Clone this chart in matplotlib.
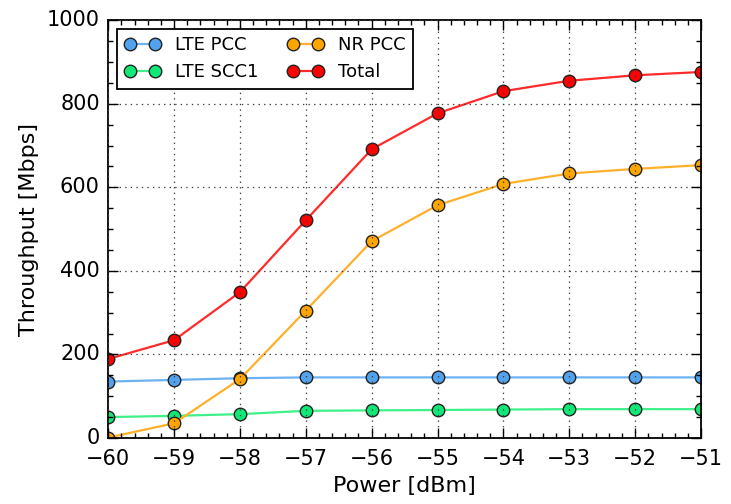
import matplotlib
matplotlib.use("Agg")
import matplotlib.pyplot as plt
from matplotlib.ticker import MultipleLocator

power = [-60, -59, -58, -57, -56, -55, -54, -53, -52, -51]
lte_pcc = [135, 139, 143, 145, 145, 145, 145, 145, 145, 145]
lte_scc1 = [50, 53, 57, 65, 66, 67, 68, 69, 69, 69]
nr_pcc = [1, 35, 141, 305, 471, 557, 608, 633, 644, 653]
total = [189, 234, 349, 521, 691, 777, 830, 855, 868, 876]

plt.style.use("classic")
plt.rcParams["font.family"] = ["DejaVu Sans"]

fig = plt.figure(figsize=(7.31, 5.04), dpi=100, facecolor="white")
ax = fig.add_axes([0.148, 0.131, 0.811, 0.829])

series = [
    ("LTE PCC", lte_pcc, "#6db3f0", "#52a2ee"),
    ("LTE SCC1", lte_scc1, "#3ef08a", "#10e878"),
    ("NR PCC", nr_pcc, "#ffb02a", "#ffa500"),
    ("Total", total, "#ff2a2a", "#ff0000"),
]
for name, vals, lc, mc in series:
    ax.plot(power, vals, "-o", color=lc, lw=1.6, markerfacecolor=mc,
            markeredgecolor="#222222", markeredgewidth=1.0, markersize=9,
            label=name)

ax.set_xlim(-60, -51)
ax.set_ylim(0, 1000)
ax.xaxis.set_major_locator(MultipleLocator(1))
ax.xaxis.set_minor_locator(MultipleLocator(0.2))
ax.yaxis.set_major_locator(MultipleLocator(200))
ax.yaxis.set_minor_locator(MultipleLocator(50))
ax.tick_params(which="both", direction="in", top=True, right=True, labelsize=15)
ax.tick_params(which="major", length=7, width=1)
ax.tick_params(axis="x", which="major", pad=8)
ax.tick_params(axis="y", which="major", pad=6)
ax.tick_params(which="minor", length=3.5, width=1)
ax.grid(True, which="major", color="0.25", linestyle=":", linewidth=0.9)
ax.set_xlabel("Power [dBm]", fontsize=16, labelpad=5)
ax.set_ylabel("Throughput [Mbps]", fontsize=16, labelpad=6)
for s in ax.spines.values():
    s.set_linewidth(1.3)

leg = ax.legend(loc="upper left", ncol=2, numpoints=2, fontsize=13,
                fancybox=False, frameon=True, borderaxespad=0.5,
                handlelength=2.0, columnspacing=1.6)
leg.get_frame().set_edgecolor("black")
leg.get_frame().set_linewidth(1.3)

fig.savefig("out.png", dpi=100, facecolor="white")
